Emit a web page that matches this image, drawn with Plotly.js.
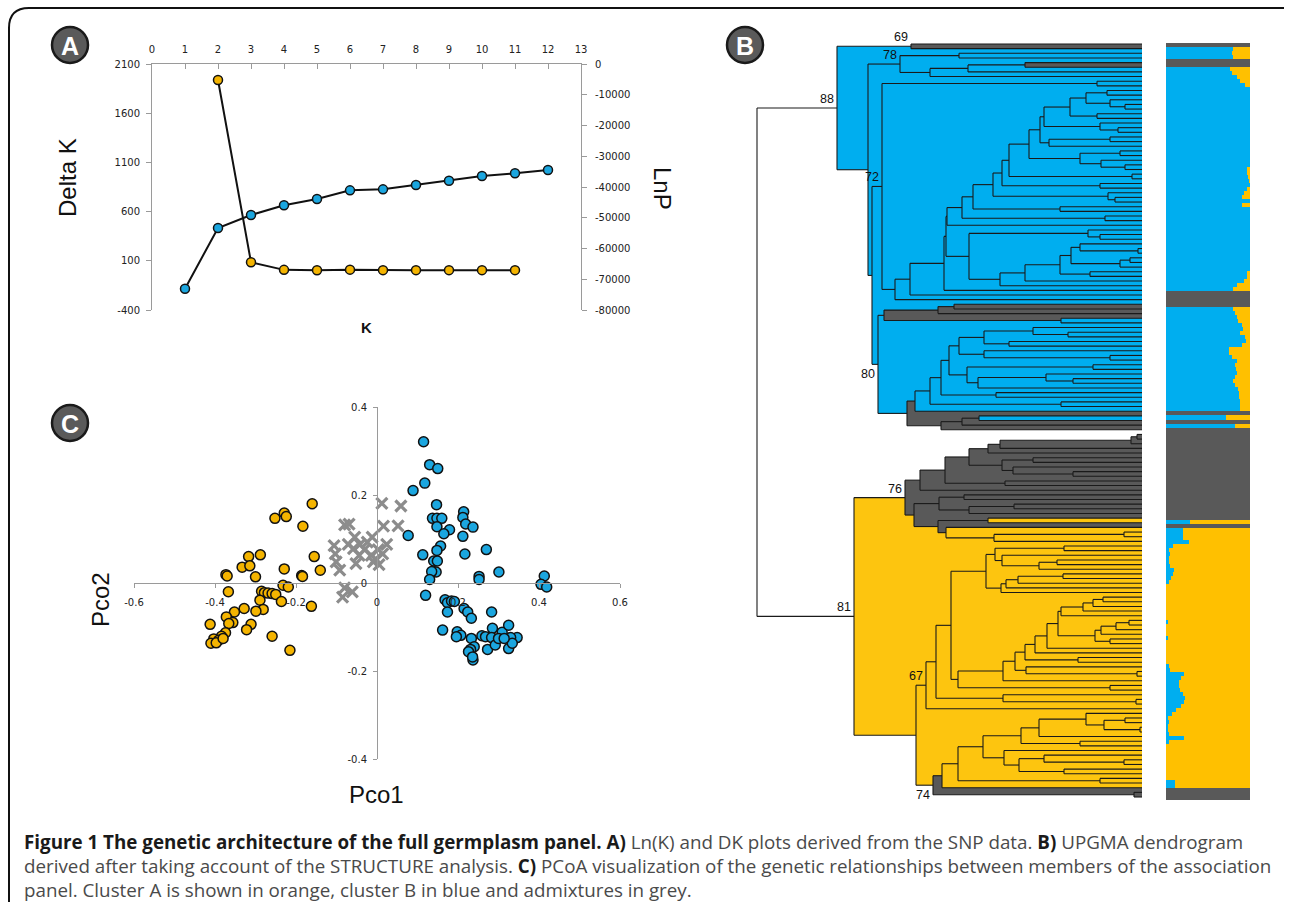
<!DOCTYPE html>
<html><head><meta charset="utf-8">
<script src="https://cdn.plot.ly/plotly-3.0.1.min.js"></script>
<style>html,body{margin:0;padding:0;background:#fff;}#chart{width:1290px;height:902px;}</style>
</head><body><div id="chart"></div>
<script>
// ---------- Panel A data ----------
const kDelta = [2,3,4,5,6,7,8,9,10,11];
const deltaK = [1937,85,8,4,10,5,5,5,5,5];
const kLnP = [1,2,3,4,5,6,7,8,9,10,11,12];
const lnP = [-73070,-53330,-49110,-45960,-43900,-41090,-40760,-39350,-37940,-36420,-35550,-34470];
const kTicks = [0,1,2,3,4,5,6,7,8,9,10,11,12,13];
const deltaTicks = [-400,100,600,1100,1600,2100];
const lnpTicks = [-80000,-70000,-60000,-50000,-40000,-30000,-20000,-10000,0];

// ---------- Panel C data ----------
const clusterA_x = [-0.160,-0.229,-0.224,-0.252,-0.183,-0.317,-0.288,-0.333,-0.314,-0.229,-0.155,-0.140,-0.373,-0.370,-0.300,-0.186,-0.184,-0.232,-0.219,-0.367,-0.285,-0.278,-0.269,-0.259,-0.250,-0.289,-0.236,-0.162,-0.328,-0.281,-0.299,-0.352,-0.372,-0.356,-0.366,-0.412,-0.311,-0.322,-0.374,-0.384,-0.259,-0.403,-0.391,-0.410,-0.397,-0.215,-0.380];
const clusterA_y = [0.180,0.159,0.151,0.147,0.129,0.060,0.064,0.036,0.039,0.032,0.060,0.029,0.019,0.016,0.014,0.017,0.015,-0.005,-0.009,-0.020,-0.019,-0.022,-0.023,-0.024,-0.026,-0.039,-0.042,-0.053,-0.058,-0.060,-0.064,-0.066,-0.077,-0.090,-0.092,-0.094,-0.094,-0.106,-0.113,-0.121,-0.121,-0.127,-0.130,-0.137,-0.136,-0.153,-0.126];
const admix_x = [0.012,0.059,-0.080,-0.069,0.016,0.052,-0.055,-0.012,-0.106,-0.071,-0.042,0.024,-0.058,-0.031,0.003,-0.103,-0.044,-0.014,0.014,-0.101,-0.052,-0.009,0.005,-0.092,-0.080,-0.061,-0.085,-0.003,-0.024];
const admix_y = [0.181,0.175,0.132,0.134,0.129,0.130,0.104,0.104,0.085,0.088,0.088,0.088,0.078,0.076,0.076,0.066,0.063,0.063,0.066,0.048,0.044,0.048,0.042,0.029,-0.011,-0.020,-0.032,0.055,0.093];
const clusterB_x = [0.115,0.130,0.150,0.118,0.089,0.147,0.214,0.137,0.148,0.160,0.212,0.219,0.237,0.148,0.179,0.165,0.077,0.212,0.157,0.270,0.113,0.217,0.148,0.140,0.149,0.140,0.146,0.301,0.135,0.252,0.252,0.130,0.413,0.405,0.419,0.120,0.168,0.174,0.184,0.191,0.174,0.215,0.224,0.233,0.283,0.162,0.198,0.207,0.196,0.233,0.259,0.268,0.285,0.309,0.325,0.346,0.330,0.283,0.240,0.231,0.226,0.273,0.292,0.325,0.334,0.237,0.236,0.300,0.314];
const clusterB_y = [0.321,0.269,0.260,0.227,0.210,0.178,0.162,0.147,0.147,0.147,0.149,0.134,0.127,0.128,0.121,0.112,0.108,0.106,0.084,0.076,0.064,0.066,0.074,0.050,0.050,0.026,0.025,0.025,0.026,0.015,0.008,0.008,0.016,-0.003,-0.009,-0.028,-0.038,-0.045,-0.041,-0.042,-0.066,-0.058,-0.066,-0.080,-0.066,-0.107,-0.111,-0.119,-0.122,-0.126,-0.120,-0.122,-0.103,-0.112,-0.096,-0.124,-0.124,-0.124,-0.145,-0.151,-0.156,-0.151,-0.141,-0.149,-0.137,-0.175,-0.168,-0.126,-0.126];
const pcoXTicks = [-0.6,-0.4,-0.2,0,0.2,0.4,0.6];
const pcoYTicks = [-0.4,-0.2,0,0.2,0.4];

// ---------- Panel B: UPGMA tree  [distance, tag(colour+support), children...]  0 = leaf ----------
const tree =
[757,'-',
 [837,'B88',
  [911,'G69',0,0],
  [868,'-',
   [900,'-78',
    [959,'-',0,0],
    [930,'-',[968,'-',[1025,'G',0,0],0],0]],
   [872,'-',
    [882,'-72',
     [1097,'-',0,0],
     [895,'-',
      [910,'-',
       [944,'-',
        [946,'-',
         [947,'-',
          [962,'-',
           [973,'-',
            [993,'-',
             [1002,'-',
              [1009,'-',
               [1029,'-',
                [1040,'-',
                 [1044,'-',
                  [1070,'-',
                   [1086,'-',[1107,'-',0,0],[1110,'-',0,[1125,'-',0,0]]],
                   [1097,'-',0,0]],
                  [1100,'-',0,[1118,'-',0,0]]],
                 [1049,'-',[1110,'-',0,0],0]],
                [1080,'-',[1120,'-',0,0],[1101,'-',0,[1125,'-',0,0]]]],
               [1132,'-',0,0]],
              [1100,'-',0,0]],
             [1108,'-',0,[1115,'-',0,0]]],
            [1060,'-',0,0]],
           [1105,'-',0,0]],
          0],
         [969,'-',
          [1088,'-',0,[1100,'-',0,0]],
          [1000,'-',
           [1025,'-',
            [1060,'-',
             [1071,'-',[1080,'-',0,[1138,'-',0,0]],[1120,'-',[1130,'-',0,0],0]],
             [1090,'-',0,0]],
            0],
           0]]],
        0],
       0],
      0]],
    [878,'-80v',
     [884,'G',[938,'-',[954,'-',0,0],0],[1061,'B',0,0]],
     [907,'G',
      [915,'B',
       [930,'-',
        [941,'-',
         [949,'-',
          [959,'-',
           [984,'-',[1033,'-',0,[1068,'-',0,0]],[1009,'-',0,0]],
           [984,'-',0,[1110,'-',0,0]]],
          [967,'-',[1093,'-',0,0],[978,'-',[1046,'-',0,[1073,'-',0,0]],0]]],
         [996,'-',0,0]],
        [1061,'-',0,0]],
       0],
      [941,'-',[962,'-',[979,'B',0,0],0],0]]]]]],
 [854,'Y81',
  [905,'G76',
   [920,'-',
    [945,'-',
     [969,'-',
      [988,'-',[1000,'-',[1131,'-',[1137,'-',0,0],0],0],0],
      [1002,'-',[1033,'-',0,0],[1013,'-',0,[1073,'-',0,0]]]],
     [1005,'-',0,0]],
    0],
   [914,'-',
    [939,'-',[964,'-',0,0],[969,'-',[1014,'-',0,0],0]],
    [938,'-',
     [988,'Y',0,0],
     [946,'Y',0,[994,'-',[1124,'-',0,0],0]]]]],
  [916,'-',
   [926,'-67',
    [936,'-',
     [951,'-',
      [986,'-',
       [995,'-',[1064,'-',0,0],[1002,'-',0,[1039,'-',[1057,'-',0,0],0]]],
       [1001,'-',[1006,'-',[1018,'-',[1063,'-',0,0],0],0],0]],
      [958,'-',
       [1003,'-',
        [1015,'-',
         [1025,'-',
          [1035,'-',
           [1047,'-',
            [1058,'-',
             [1061,'-',[1083,'-',[1093,'-',[1103,'-',0,0],0],0],0],
             [1095,'-',[1101,'-',[1116,'-',[1129,'-',0,0],0],0],[1110,'-',0,0]]],
            0],
           0],
          [1078,'-',0,0]],
         [1026,'-',0,[1137,'-',0,0]]],
        0],
       [1110,'-',0,0]]],
     [1003,'-',0,[1136,'-',0,0]]],
    0],
   [933,'G74v',
    [942,'Y',
     [958,'-',
      [983,'-',
       [1021,'-',[1039,'-',[1086,'-',0,[1104,'-',[1125,'-',0,0],[1140,'-',0,0]]],0],[1080,'-',0,0]],
       [1004,'-',0,[1019,'-',[1044,'-',0,[1124,'-',0,0]],[1064,'-',0,0]]]],
      [1100,'-',0,0]],
     0],
    [1134,'-',0,0]]]]];
const TIP = 1142;

// ---------- Panel B: STRUCTURE membership (blue fraction per row; grey rows listed) ----------
const structBlue = [
0,.80,.78,.80,0,0,.76,.78,.85,.88,.94,
1,1,1,1,1,1,1,1,1,1,1,1,1,1,1,1,1,1,1,1,
.96,.97,.98,.99,1,.96,.93,.90,1,.90,1,
1,1,1,1,1,1,1,1,1,1,1,1,1,1,1,
.97,.96,.93,.85,.80,
0,0,0,0,
.80,.82,.84,.86,.90,.92,.88,.94,.95,.90,.75,.75,.78,.84,.82,.83,.85,.82,.80,.82,.86,.87,.87,.88,.88,.88,
0,.71,0,.82,
0,0,0,0,0,0,0,0,0,0,0,0,0,0,0,0,0,0,0,0,0,0,0,
.29,0,
.20,.20,.20,.27,.08,.03,.05,.04,.03,.05,.10,.08,.06,.03,
0,0,0,0,0,0,0,0,0,
.02,0,0,0,.02,
0,0,0,0,0,0,
.04,.05,.21,.18,.15,.15,.17,.20,.23,.22,.18,.12,.07,.02,.03,.02,.02,.03,.22,.04,
0,0,0,0,0,0,0,0,0,
.11,.11,
0,0,0];
const greyRows = [0,4,5,62,63,64,65,92,94,96,97,98,99,100,101,102,103,104,105,106,107,108,109,110,111,112,113,114,115,116,117,118,120,186,187,188];

// ---------- helpers ----------
const W = 1290, H = 902;
const fx = p => p / W;
const fy = p => 1 - p / H;
const COL = {B:'#00AEEF', G:'#595959', Y:'#FDC50F'};
const BLUE_M = '#1BA6DF', ORANGE_M = '#F4B400';

// build tree
let leafN = 0;
const nodes = [];
function build(n, depth, inh) {
  if (n === 0) return {leaf:true, x:TIP, y:leafN++};
  const [x, tag, ...kids] = n;
  const c = tag[0] === '-' ? inh : tag[0];
  let label = tag.slice(1), below = false;
  if (label.endsWith('v')) { below = true; label = label.slice(0, -1); }
  const ch = kids.map(k => build(k, depth + 1, c));
  const node = {x, c, label, below, ch, depth, y:(ch[0].y + ch[ch.length-1].y) / 2};
  nodes.push(node);
  return node;
}
const root = build(tree, 0, null);
const nLeaf = leafN;
const leafTopPx = 44, leafBotPx = 797;
const pxPerLeaf = (leafBotPx - leafTopPx) / (nLeaf - 1);
const dTop = 38, dBot = 803;
const dendYRange = [nLeaf - 1 + (dBot - leafBotPx) / pxPerLeaf, -(leafTopPx - dTop) / pxPerLeaf];

const traces = [];

// fills grouped by depth & colour
const groups = {};
nodes.forEach(n => {
  if (!n.c) return;
  const key = String(n.depth).padStart(3, '0') + n.c;
  if (!groups[key]) groups[key] = {c:n.c, x:[], y:[]};
  const g = groups[key];
  const y0 = n.ch[0].y, y1 = n.ch[n.ch.length-1].y;
  g.x.push(n.x, TIP, TIP, n.x, n.x, null);
  g.y.push(y0, y0, y1, y1, y0, null);
});
Object.keys(groups).sort().forEach(k => {
  const g = groups[k];
  traces.push({type:'scatter', mode:'lines', x:g.x, y:g.y, xaxis:'x3', yaxis:'y4',
    fill:'toself', fillcolor:COL[g.c], line:{width:0, color:COL[g.c]}, hoverinfo:'skip', showlegend:false});
});
// branches
const bx = [], by = [];
nodes.forEach(n => {
  const y0 = n.ch[0].y, y1 = n.ch[n.ch.length-1].y;
  bx.push(n.x, n.x, null); by.push(y0, y1, null);
  n.ch.forEach(c => { bx.push(n.x, c.x, null); by.push(c.y, c.y, null); });
});
traces.push({type:'scatter', mode:'lines', x:bx, y:by, xaxis:'x3', yaxis:'y4',
  line:{color:'#1a1a1a', width:1.1}, hoverinfo:'skip', showlegend:false});

// STRUCTURE bars
const rowIdx = structBlue.map((_, i) => i);
const greyVals = rowIdx.map(i => greyRows.includes(i) ? 1 : 0);
const yellowVals = rowIdx.map(i => greyRows.includes(i) ? 0 : +(1 - structBlue[i]).toFixed(3));
[[structBlue, COL.B], [yellowVals, '#FFC000'], [greyVals, '#595959']].forEach(([v, c]) => {
  traces.push({type:'bar', orientation:'h', x:v, y:rowIdx, xaxis:'x4', yaxis:'y5',
    marker:{color:c, line:{width:0}}, hoverinfo:'skip', showlegend:false});
});

// Panel A traces
traces.push({type:'scatter', mode:'lines+markers', x:kLnP, y:lnP, xaxis:'x', yaxis:'y2',
  line:{color:'#111', width:2}, marker:{size:9, color:BLUE_M, line:{color:'#111', width:1.5}}, showlegend:false});
traces.push({type:'scatter', mode:'lines+markers', x:kDelta, y:deltaK, xaxis:'x', yaxis:'y',
  line:{color:'#111', width:2}, marker:{size:9, color:ORANGE_M, line:{color:'#111', width:1.5}}, showlegend:false});

// Panel C traces
traces.push({type:'scatter', mode:'markers', x:admix_x, y:admix_y, xaxis:'x2', yaxis:'y3',
  marker:{symbol:'x-thin', size:11, color:'#8c8c8c', line:{color:'#8c8c8c', width:3.2}}, showlegend:false});
traces.push({type:'scatter', mode:'markers', x:clusterA_x, y:clusterA_y, xaxis:'x2', yaxis:'y3',
  marker:{size:10, color:ORANGE_M, line:{color:'#111', width:1.5}}, showlegend:false});
traces.push({type:'scatter', mode:'markers', x:clusterB_x, y:clusterB_y, xaxis:'x2', yaxis:'y3',
  marker:{size:10, color:BLUE_M, line:{color:'#111', width:1.5}}, showlegend:false});

const tickFont = {family:'DejaVu Sans', size:10, color:'#222'};
const axLine = '#9a9a9a';
const fmt = v => String(v);

const annotations = [];
const ann = (o) => annotations.push(Object.assign({xref:'paper', yref:'paper', showarrow:false,
  xanchor:'center', yanchor:'middle'}, o));
// node support labels
nodes.forEach(n => {
  if (!n.label) return;
  annotations.push({xref:'x3', yref:'y4', x:n.x, y:n.y, text:n.label, showarrow:false,
    xanchor:'right', yanchor:n.below ? 'top' : 'bottom', xshift:-1, yshift:n.below ? -1 : 0,
    font:{family:'Liberation Sans', size:12.5, color:'#111'}});
});
// axis titles
ann({x:fx(68), y:fy(178), text:'Delta K', textangle:-90, font:{family:'Liberation Sans', size:24, color:'#111'}});
ann({x:fx(663), y:fy(188), text:'LnP', textangle:90, font:{family:'Liberation Sans', size:24, color:'#111'}});
ann({x:fx(366), y:fy(327), text:'<b>K</b>', font:{family:'Liberation Sans', size:15, color:'#111'}});
ann({x:fx(100), y:fy(600), text:'Pco2', textangle:-90, font:{family:'Liberation Sans', size:24, color:'#111'}});
ann({x:fx(376), y:fy(794), text:'Pco1', font:{family:'Liberation Sans', size:24, color:'#111'}});
// panel letters
const letters = [['A',70,45],['B',745,45],['C',70,423]];
const shapes = [];
letters.forEach(([t, cx, cy]) => {
  shapes.push({type:'circle', xref:'paper', yref:'paper', x0:fx(cx-18), x1:fx(cx+18), y0:fy(cy+18), y1:fy(cy-18),
    fillcolor:'#5a5a5a', line:{color:'#1a1a1a', width:2.5}});
  ann({x:fx(cx), y:fy(cy+1), text:'<b>'+t+'</b>', font:{family:'Liberation Sans', size:25, color:'#fff'}});
});
// frame
shapes.push({type:'path', xref:'paper', yref:'paper', layer:'above',
  path:`M ${fx(9)},${fy(902)} L ${fx(9)},${fy(28)} Q ${fx(9)},${fy(8)} ${fx(29)},${fy(8)} L ${fx(1284)},${fy(8)}`,
  line:{color:'#111', width:2}});
// caption
const capFont = {family:'Open Sans', size:18.8, color:'#4a4a4a'};
const B = s => '<b><span style="color:#1a1a1a">' + s + '</span></b>';
const capLines = [
  B('Figure 1 The genetic architecture of the full germplasm panel. A)') + ' Ln(K) and DK plots derived from the SNP data. ' + B('B)') + ' UPGMA dendrogram',
  'derived after taking account of the STRUCTURE analysis. ' + B('C)') + ' PCoA visualization of the genetic relationships between members of the association',
  'panel. Cluster A is shown in orange, cluster B in blue and admixtures in grey.'
];
[842, 866, 890].forEach((py, i) => {
  ann({x:fx(22), y:fy(py), xanchor:'left', text:capLines[i], font:capFont});
});

const layout = {
  width:W, height:H, margin:{l:0, r:0, t:0, b:0}, paper_bgcolor:'#fff', plot_bgcolor:'rgba(0,0,0,0)',
  showlegend:false, barmode:'stack', bargap:0,
  xaxis:{domain:[fx(152), fx(581)], range:[0,13], side:'top', anchor:'y', tickvals:kTicks, ticktext:kTicks.map(fmt),
    ticks:'inside', ticklen:5, tickcolor:axLine, showline:true, linecolor:axLine, linewidth:1,
    showgrid:false, zeroline:false, tickfont:tickFont, ticklabelstandoff:6},
  yaxis:{domain:[fy(310), fy(64)], range:[-400,2100], anchor:'x', tickvals:deltaTicks, ticktext:deltaTicks.map(fmt),
    ticks:'outside', ticklen:5, tickcolor:axLine, showline:true, linecolor:axLine,
    showgrid:false, zeroline:false, tickfont:tickFont, ticklabelstandoff:4},
  yaxis2:{overlaying:'y', side:'right', anchor:'x', range:[-80000,0], tickvals:lnpTicks, ticktext:lnpTicks.map(fmt),
    ticks:'outside', ticklen:5, tickcolor:axLine, showline:true, linecolor:axLine,
    showgrid:false, zeroline:false, tickfont:tickFont, ticklabelstandoff:6},
  xaxis2:{domain:[fx(134), fx(620)], range:[-0.6,0.6], anchor:'free', position:(fy(759)+fy(407))/2,
    tickvals:pcoXTicks, ticktext:pcoXTicks.map(fmt), ticks:'outside', ticklen:4, tickcolor:axLine,
    showline:true, linecolor:axLine, showgrid:false, zeroline:false, tickfont:tickFont, ticklabelstandoff:6},
  yaxis3:{domain:[fy(759), fy(407)], range:[-0.4,0.4], anchor:'free', position:fx(377),
    tickvals:pcoYTicks, ticktext:pcoYTicks.map(fmt), ticks:'outside', ticklen:4, tickcolor:axLine,
    showline:true, linecolor:axLine, showgrid:false, zeroline:false, tickfont:tickFont, ticklabelstandoff:4},
  xaxis3:{domain:[fx(750), fx(1150)], range:[750,1150], anchor:'y4', visible:false, fixedrange:true},
  yaxis4:{domain:[fy(dBot), fy(dTop)], range:dendYRange, anchor:'x3', visible:false},
  xaxis4:{domain:[fx(1166), fx(1250)], range:[0,1], anchor:'y5', visible:false},
  yaxis5:{domain:[fy(800), fy(43)], range:[structBlue.length-0.5, -0.5], anchor:'x4', visible:false},
  annotations, shapes
};

Plotly.newPlot('chart', traces, layout, {staticPlot:true, displayModeBar:false});
</script></body></html>
